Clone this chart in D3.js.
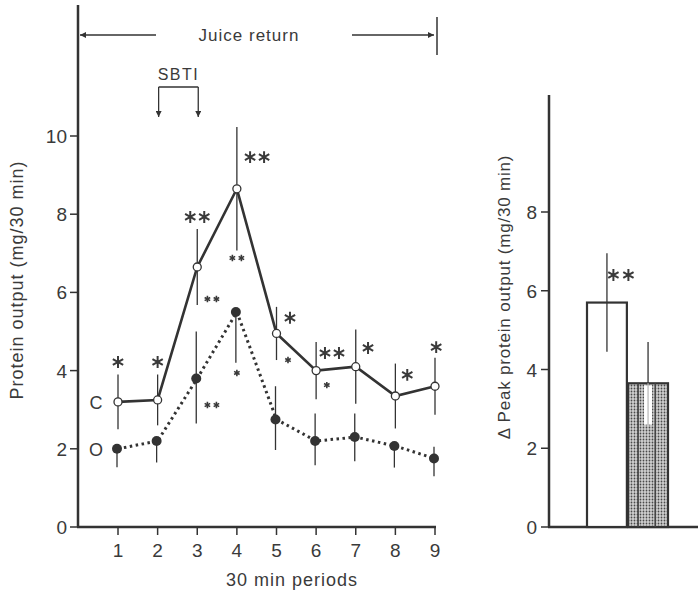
<!DOCTYPE html>
<html>
<head>
<meta charset="utf-8">
<script src="https://cdn.jsdelivr.net/npm/d3@7"></script>
<style>
body { margin: 0; background: #fff; }
text { font-family: "Liberation Sans", Arial, sans-serif; fill: #3a3a3a; }
</style>
</head>
<body>
<div class="container"></div>
<script>
const wd = 698
const ht = 596

// data
const periods = [1, 2, 3, 4, 5, 6, 7, 8, 9]
const cValues = [3.2, 3.25, 6.65, 8.65, 4.95, 4.0, 4.1, 3.35, 3.6]
const cErr = [0.7, 0.65, 0.97, 1.58, 0.68, 0.73, 0.95, 0.83, 0.73]
const oValues = [2.0, 2.2, 3.8, 5.5, 2.75, 2.2, 2.3, 2.07, 1.75]
const oErrUp = [0, 0, 1.2, 0, 0.85, 0.7, 0.6, 0, 0.3]
const oErrDown = [0.47, 0.55, 1.15, 1.3, 0.78, 0.62, 0.62, 0.55, 0.45]
const yTicks = [0, 2, 4, 6, 8, 10]

// significance marks: [period, value, count]
const bigStars = [[1, 4.22, 1], [2, 4.22, 1], [3, 7.93, 2], [4.51, 9.46, 2], [5.34, 5.35, 1],
    [6.4, 4.45, 2], [7.31, 4.58, 1], [8.3, 3.89, 1], [9.03, 4.6, 1]]
const smallStars = [[4, 6.88, 2], [3.37, 5.83, 2], [3.37, 3.12, 2], [4, 3.94, 1],
    [5.29, 4.27, 1], [6.27, 3.63, 1]]

const barGroups = ["C", "O"]
const barValues = [5.7, 3.65]
const barErr = [1.25, 1.05]
const barTicks = [0, 2, 4, 6, 8]

const ink = "#333"

const svg = d3.select(".container")
.append("svg")
.attr("width", wd)
.attr("height", ht)

const defs = svg.append("defs")
const pat = defs.append("pattern")
.attr("id", "stip")
.attr("width", 3)
.attr("height", 3)
.attr("patternUnits", "userSpaceOnUse")
pat.append("rect").attr("width", 3).attr("height", 3).attr("fill", "#d0d0d0")
pat.append("circle").attr("cx", 1.5).attr("cy", 1.5).attr("r", 0.9).attr("fill", "#4a4a4a")

let m = defs.append("marker")
.attr("id", "arr")
.attr("viewBox", "0 0 10 10")
.attr("refX", 10).attr("refY", 5)
.attr("markerWidth", 9).attr("markerHeight", 6)
.attr("markerUnits", "userSpaceOnUse")
.attr("orient", "auto")
m.append("path").attr("d", "M0,0 L10,5 L0,10 Z").attr("fill", ink)

const bigStar = d3.symbol(d3.symbolAsterisk, 100)
const smallStar = d3.symbol(d3.symbolAsterisk, 28)

function drawStars(list, xs, ys, sym, gap, sw) {
    list.forEach(d => {
        for (let k = 0; k < d[2]; k++) {
            let off = (k - (d[2] - 1) / 2) * gap
            svg.append("path")
            .attr("d", sym())
            .attr("transform", `translate(${xs(d[0]) + off},${ys(d[1])})`)
            .attr("fill", "none")
            .style("stroke", "#3a3a3a").style("stroke-width", sw)
        }
    })
}

// ---------- left panel ----------
const x = d3.scaleLinear().domain([1, 9]).range([118, 435])
const y = d3.scaleLinear().domain([0, 10]).range([527, 136])
const axisX0 = 78

svg.append("line")
.attr("x1", axisX0).attr("x2", axisX0)
.attr("y1", 5).attr("y2", y(0))
.style("stroke", ink).style("stroke-width", "2.5px")

svg.append("line")
.attr("x1", axisX0 - 1).attr("x2", x(9) + 1)
.attr("y1", y(0)).attr("y2", y(0))
.style("stroke", ink).style("stroke-width", "2.5px")

svg.selectAll(".ytick")
.data(yTicks)
.enter()
.append("line")
.attr("x1", axisX0 - 8).attr("x2", axisX0)
.attr("y1", d => y(d)).attr("y2", d => y(d))
.style("stroke", ink).style("stroke-width", "1.5px")

svg.selectAll(".ylab")
.data(yTicks)
.enter()
.append("text")
.attr("x", axisX0 - 11)
.attr("y", d => y(d) + 7)
.attr("text-anchor", "end")
.style("font-size", "19px")
.text(d => d)

svg.selectAll(".xtick")
.data(periods)
.enter()
.append("line")
.attr("x1", d => x(d)).attr("x2", d => x(d))
.attr("y1", y(0)).attr("y2", y(0) + 8)
.style("stroke", ink).style("stroke-width", "1.5px")

svg.selectAll(".xlab")
.data(periods)
.enter()
.append("text")
.attr("x", d => x(d))
.attr("y", 557)
.attr("text-anchor", "middle")
.style("font-size", "19px")
.text(d => d)

svg.append("text")
.attr("x", 292).attr("y", 586)
.attr("text-anchor", "middle")
.style("font-size", "18px")
.style("letter-spacing", "1px")
.text("30 min periods")

svg.append("text")
.attr("transform", "translate(23,280) rotate(-90)")
.attr("text-anchor", "middle")
.style("font-size", "18px")
.style("letter-spacing", "1px")
.text("Protein output (mg/30 min)")

// juice return
svg.append("line")
.attr("x1", 156).attr("x2", axisX0 + 2)
.attr("y1", 35).attr("y2", 35)
.style("stroke", ink).style("stroke-width", "1.3px")
.attr("marker-end", "url(#arr)")
svg.append("line")
.attr("x1", 352).attr("x2", x(9) - 1)
.attr("y1", 35).attr("y2", 35)
.style("stroke", ink).style("stroke-width", "1.3px")
.attr("marker-end", "url(#arr)")
svg.append("line")
.attr("x1", x(9) + 2).attr("x2", x(9) + 2)
.attr("y1", 17).attr("y2", 55)
.style("stroke", ink).style("stroke-width", "1.5px")
svg.append("text")
.attr("x", 249).attr("y", 41)
.attr("text-anchor", "middle")
.style("font-size", "17px")
.style("letter-spacing", "1px")
.text("Juice return")

// SBTI bracket
svg.append("path")
.attr("d", `M${x(2) + 1},87 H${x(3) + 1}`)
.attr("fill", "none")
.style("stroke", ink).style("stroke-width", "1.3px")
svg.selectAll(".sbti")
.data([2, 3])
.enter()
.append("line")
.attr("x1", d => x(d) + 1).attr("x2", d => x(d) + 1)
.attr("y1", 87).attr("y2", 117)
.style("stroke", ink).style("stroke-width", "1.3px")
.attr("marker-end", "url(#arr)")
svg.append("text")
.attr("x", x(2.5) + 1).attr("y", 80)
.attr("text-anchor", "middle")
.style("font-size", "16px")
.style("letter-spacing", "1.5px")
.text("SBTI")

// series labels
svg.append("text").attr("x", 96).attr("y", y(cValues[0]) + 7)
.attr("text-anchor", "middle").style("font-size", "18px").text("C")
svg.append("text").attr("x", 96).attr("y", y(oValues[0]) + 7)
.attr("text-anchor", "middle").style("font-size", "18px").text("O")

const lineFunc = d3.line()
.x((d, i) => x(periods[i]))
.y(d => y(d))

// O error bars
svg.selectAll(".oerr")
.data(oValues)
.enter()
.append("line")
.attr("x1", (d, i) => x(periods[i]) - 1).attr("x2", (d, i) => x(periods[i]) - 1)
.attr("y1", (d, i) => y(d + oErrUp[i]))
.attr("y2", (d, i) => y(d - oErrDown[i]))
.style("stroke", ink).style("stroke-width", "1.3px")

// C error bars
svg.selectAll(".cerr")
.data(cValues)
.enter()
.append("line")
.attr("x1", (d, i) => x(periods[i])).attr("x2", (d, i) => x(periods[i]))
.attr("y1", (d, i) => y(d + cErr[i]))
.attr("y2", (d, i) => y(d - cErr[i]))
.style("stroke", ink).style("stroke-width", "1.3px")

// O line (dotted)
svg.append("path")
.attr("d", lineFunc(oValues))
.attr("fill", "none")
.style("stroke", ink).style("stroke-width", "3px")
.style("stroke-dasharray", "2.5,3.5")

svg.selectAll(".odot")
.data(oValues)
.enter()
.append("circle")
.attr("cx", (d, i) => x(periods[i]) - 1)
.attr("cy", d => y(d))
.attr("r", 5)
.attr("fill", ink)

// C line (solid)
svg.append("path")
.attr("d", lineFunc(cValues))
.attr("fill", "none")
.style("stroke", ink).style("stroke-width", "2.6px")

svg.selectAll(".cdot")
.data(cValues)
.enter()
.append("circle")
.attr("cx", (d, i) => x(periods[i]))
.attr("cy", d => y(d))
.attr("r", 4)
.attr("fill", "#fff")
.style("stroke", ink).style("stroke-width", "1.3px")

drawStars(bigStars, x, y, bigStar, 14, "2px")
drawStars(smallStars, x, y, smallStar, 9, "1.6px")

// ---------- right panel ----------
const ry = d3.scaleLinear().domain([0, 8]).range([527, 212])
const rx = d3.scaleBand().domain(barGroups).range([587, 668]).paddingInner(0.03)
const rAxisX = 549

svg.append("line")
.attr("x1", rAxisX).attr("x2", rAxisX)
.attr("y1", 95).attr("y2", ry(0))
.style("stroke", ink).style("stroke-width", "2.5px")
svg.append("line")
.attr("x1", rAxisX - 1).attr("x2", wd)
.attr("y1", ry(0)).attr("y2", ry(0))
.style("stroke", ink).style("stroke-width", "2.5px")

svg.selectAll(".rtick")
.data(barTicks)
.enter()
.append("line")
.attr("x1", rAxisX - 8).attr("x2", rAxisX)
.attr("y1", d => ry(d)).attr("y2", d => ry(d))
.style("stroke", ink).style("stroke-width", "1.5px")
svg.selectAll(".rlab")
.data(barTicks)
.enter()
.append("text")
.attr("x", rAxisX - 12)
.attr("y", d => ry(d) + 7)
.attr("text-anchor", "end")
.style("font-size", "19px")
.text(d => d)

svg.append("text")
.attr("transform", "translate(510,297) rotate(-90)")
.attr("text-anchor", "middle")
.style("font-size", "17px")
.style("letter-spacing", "0.8px")
.text("Δ Peak protein output (mg/30 min)")

svg.selectAll(".bar")
.data(barValues)
.enter()
.append("rect")
.attr("x", (d, i) => rx(barGroups[i]))
.attr("y", d => ry(d))
.attr("width", rx.bandwidth())
.attr("height", d => ry(0) - ry(d))
.attr("fill", (d, i) => i == 0 ? "#fff" : "url(#stip)")
.style("stroke", ink).style("stroke-width", "2.2px")

// dark strips inside stippled bar
const b2 = rx(barGroups[1])
svg.selectAll(".strip")
.data([0.25, 0.68])
.enter()
.append("line")
.attr("x1", d => b2 + rx.bandwidth() * d).attr("x2", d => b2 + rx.bandwidth() * d)
.attr("y1", ry(barValues[1])).attr("y2", ry(0))
.style("stroke", "#444").style("stroke-width", "1.6px")

svg.selectAll(".barerr")
.data(barValues)
.enter()
.append("line")
.attr("x1", (d, i) => rx(barGroups[i]) + rx.bandwidth() / 2)
.attr("x2", (d, i) => rx(barGroups[i]) + rx.bandwidth() / 2)
.attr("y1", (d, i) => ry(d + barErr[i]))
.attr("y2", (d, i) => ry(d - barErr[i]))
.style("stroke", ink).style("stroke-width", "1.3px")

// white gap under error bar inside the stippled bar
svg.append("rect")
.attr("x", b2 + rx.bandwidth() / 2 - 4)
.attr("y", ry(barValues[1]) + 2)
.attr("width", 8)
.attr("height", ry(barValues[1] - barErr[1]) - ry(barValues[1]) - 2)
.attr("fill", "#fff")
svg.append("line")
.attr("x1", b2 + rx.bandwidth() / 2).attr("x2", b2 + rx.bandwidth() / 2)
.attr("y1", ry(barValues[1])).attr("y2", ry(barValues[1] - barErr[1]))
.style("stroke", "#bbb").style("stroke-width", "1.3px")

const barX = d3.scaleLinear().domain([0, 1]).range([rx(barGroups[0]), rx(barGroups[0]) + rx.bandwidth()])
drawStars([[0.85, 6.4, 2]], barX, ry, bigStar, 15, "2px")
</script>
</body>
</html>
